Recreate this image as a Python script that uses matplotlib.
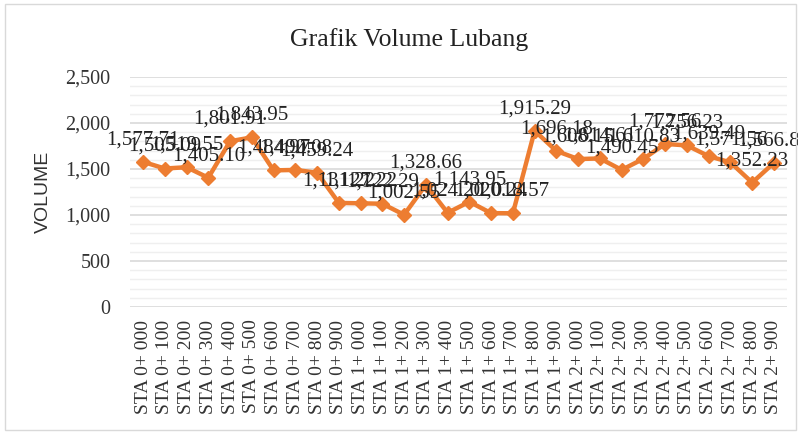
import matplotlib
matplotlib.use("Agg")
import matplotlib.pyplot as plt
from matplotlib.patches import Rectangle
from matplotlib.ticker import MultipleLocator, FuncFormatter

categories = [f"STA {k}+ {h}" for k in range(3) for h in
              ["000", "100", "200", "300", "400", "500", "600", "700", "800", "900"]]
volumes = [1577.71, 1505.09, 1519.55, 1405.10, 1801.91, 1843.95, 1484.97, 1490.08,
           1459.24, 1131.22, 1127.22, 1122.29, 1002.55, 1328.66, 1024.20, 1143.95,
           1020.24, 1018.57, 1915.29, 1696.18, 1608.15, 1614.61, 1490.45, 1610.83,
           1772.56, 1756.23, 1639.49, 1571.56, 1352.23, 1566.88]
y_ticks = [0, 500, 1000, 1500, 2000, 2500]

serif = ["Liberation Serif", "DejaVu Serif"]
fig = plt.figure(figsize=(7.98, 4.34), dpi=100)
fig.patches.append(Rectangle((0.006, 0.01), 0.992, 0.98, transform=fig.transFigure,
                             fill=False, edgecolor="#d9d9d9", linewidth=1))
ax = fig.add_axes([130 / 798, 1 - 307 / 434, (787 - 130) / 798, 230 / 434])

x = list(range(len(categories)))
ax.plot(x, volumes, color="#ED7D31", linewidth=3.2, marker="D", markersize=7, zorder=3)
for xi, v in zip(x, volumes):
    ax.annotate(f"{v:,.2f}", (xi, v), xytext=(0, 9), textcoords="offset points",
                ha="center", va="bottom", fontsize=15, family=serif, color="#222222",
                annotation_clip=False)

ax.set_xlim(-0.6, len(categories) - 0.4)
ax.set_ylim(0, 2500)
ax.set_yticks(y_ticks)
ax.yaxis.set_major_formatter(FuncFormatter(lambda v, p: f"{int(v):,}"))
ax.yaxis.set_minor_locator(MultipleLocator(100))
ax.grid(axis="y", which="major", color="#d9d9d9", linewidth=1.2)
ax.grid(axis="y", which="minor", color="#efefef", linewidth=1)
ax.set_axisbelow(True)
for s in ax.spines.values():
    s.set_visible(False)
ax.tick_params(axis="both", which="both", length=0)
ax.set_xticks(x)
ax.set_xticklabels(categories, rotation=90, family=serif, fontsize=14, color="#333333")
ax.tick_params(axis="x", pad=9)
for lab in ax.get_yticklabels():
    lab.set_family(serif)
    lab.set_fontsize(14.5)
    lab.set_color("#333333")
ax.tick_params(axis="y", pad=14)
ax.set_ylabel("VOLUME", fontsize=14, family=["Liberation Sans", "DejaVu Sans"],
              color="#333333", labelpad=10)
fig.text(409 / 798, 1 - 40 / 434, "Grafik Volume Lubang", ha="center", va="center",
         fontsize=18.5, family=serif, color="#222222")

fig.savefig("out.png", dpi=100)
